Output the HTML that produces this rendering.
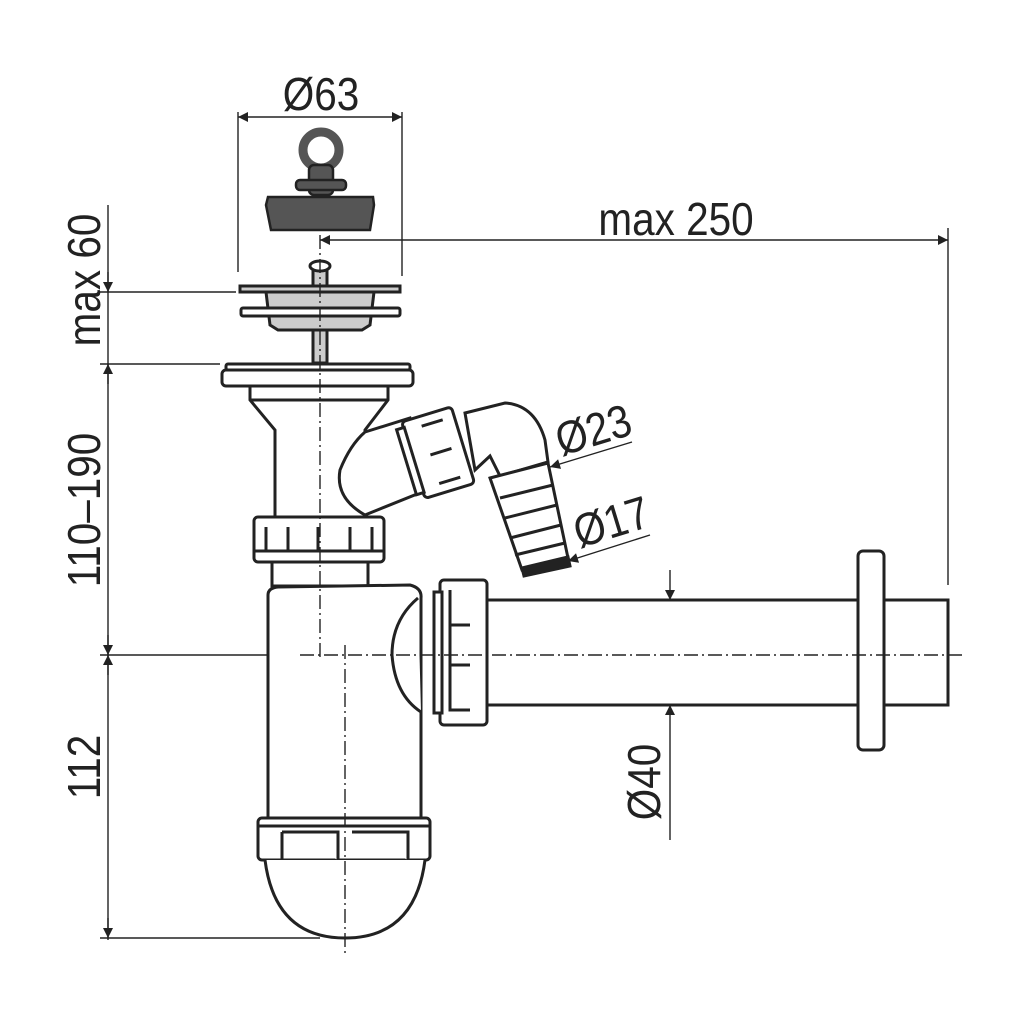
<!DOCTYPE html>
<html><head><meta charset="utf-8"><style>
html,body{margin:0;padding:0;background:#fff}
svg{display:block}
text{font-family:"Liberation Sans Narrow","Liberation Sans",sans-serif;fill:#222}
</style></head><body>
<svg width="1024" height="1024" viewBox="0 0 1024 1024" xmlns="http://www.w3.org/2000/svg">
<defs>
<marker id="a" viewBox="0 0 10 10" refX="10" refY="5" markerWidth="16" markerHeight="10" markerUnits="userSpaceOnUse" orient="auto-start-reverse"><path d="M0,0 L10,5 L0,10 z" fill="#222"/></marker>
</defs>
<g stroke="#222" fill="none" stroke-width="1.4">
<line x1="238" y1="112" x2="238" y2="272"/>
<line x1="402" y1="112" x2="402" y2="276"/>
<line x1="238" y1="117" x2="402" y2="117" marker-start="url(#a)" marker-end="url(#a)"/>
<line x1="320" y1="240" x2="948" y2="240" marker-start="url(#a)" marker-end="url(#a)"/>
<line x1="948" y1="228" x2="948" y2="585"/>
<line x1="108" y1="205" x2="108" y2="940"/>
<line x1="100" y1="292" x2="236" y2="292"/>
<line x1="100" y1="364" x2="220" y2="364"/>
<line x1="100" y1="655" x2="300" y2="655"/>
<line x1="100" y1="938" x2="320" y2="938"/>
<line x1="108" y1="272" x2="108" y2="292" marker-end="url(#a)"/>
<line x1="108" y1="384" x2="108" y2="364" marker-end="url(#a)"/>
<line x1="108" y1="635" x2="108" y2="655" marker-end="url(#a)"/>
<line x1="108" y1="675" x2="108" y2="655" marker-end="url(#a)"/>
<line x1="108" y1="918" x2="108" y2="938" marker-end="url(#a)"/>
<line x1="670" y1="570" x2="670" y2="600" marker-end="url(#a)"/>
<line x1="670" y1="840" x2="670" y2="705" marker-end="url(#a)"/>
<line x1="632" y1="442" x2="550" y2="467" marker-end="url(#a)"/>
<line x1="650" y1="535" x2="568" y2="561" marker-end="url(#a)"/>
</g>
<!-- stopper -->
<g stroke="#222" stroke-width="2.5">
<circle cx="321" cy="150" r="18" fill="none" stroke="#555" stroke-width="9"/>
<rect x="309" y="165" width="24" height="30" rx="5" fill="#555"/>
<rect x="296" y="180" width="50" height="10" rx="4" fill="#555"/>
<path d="M268,197 L373,197 L374,205 L370,230 L271,230 L266,205 Z" fill="#555"/>
</g>
<g stroke="#222" stroke-width="3" fill="#fff">
<rect x="313" y="268" width="14" height="95" fill="#ccc"/>
<ellipse cx="320" cy="266" rx="10" ry="5"/>
<path d="M266,292 L374,292 L370,325 L362,330 L278,330 L270,325 Z" fill="#ccc"/>
<path d="M240,286 L400,286 L400,292 L240,292 Z" fill="#ccc"/>
<rect x="241" y="308" width="159" height="8" rx="2"/>
<rect x="226" y="364" width="184" height="6" rx="2"/>
<rect x="222" y="370" width="191" height="16" rx="4"/>
<path d="M250,386 L388,386 L388,400 L365,430 L365,517 L275,517 L275,430 L250,400 Z"/>
<line x1="250" y1="400" x2="388" y2="400"/>
<path d="M365,432 L410,418 L432,488 L365,515 Q335,498 340,470 Q350,445 365,432 Z"/>
<g transform="rotate(-17 440 452)">
<rect x="412" y="412" width="52" height="80" rx="4"/>
<rect x="405" y="418" width="8" height="68"/>
<path d="M430,422 h22 M430,452 h22 M430,482 h22"/>
</g>
<path d="M465,413 L505,403 Q535,405 545,440 L548,462 L500,476 L490,456 L475,470 Z"/>
<path d="M490,478 L548,463 L568,558 L522,570 Z"/>
<path d="M500,498 L553,485 M505,518 L557,505 M510,538 L561,525 M515,555 L565,543"/>
<path d="M522,568 L568,557 L570,566 L524,576 Z" fill="#222"/>
<rect x="254" y="517" width="130" height="45" rx="4"/>
<path d="M266,550 V527 M288,550 V527 M318,550 V527 M350,550 V527 M372,550 V527"/>
<line x1="254" y1="551" x2="384" y2="551"/>
<rect x="272" y="562" width="96" height="24"/>
<path d="M268,595 Q268,588 278,587 L410,585 Q422,588 421,598 L421,818 L268,818 Z"/>
<path d="M418,598 Q392,620 392,655 Q395,695 421,712"/>
<rect x="258" y="818" width="172" height="42" rx="4"/>
<line x1="258" y1="826" x2="430" y2="826"/>
<path d="M282,832 h56 v28 M352,832 h56 v28 M282,832 v28 M408,832 v28"/>
<path d="M265,860 Q275,938 345,938 Q415,938 425,860"/>
<rect x="487" y="600" width="372" height="105"/>
<rect x="884" y="600" width="64" height="105"/>
<rect x="858" y="551" width="26" height="199" rx="5"/>
<rect x="440" y="580" width="47" height="145" rx="4"/>
<rect x="434" y="592" width="8" height="121"/>
<path d="M450,590 v35 h20 M450,625 v40 h20 M450,665 v45 h20"/>
</g>
<!-- axes on top -->
<g stroke="#222" fill="none" stroke-dasharray="14,4,2,4" stroke-width="1.4">
<line x1="320" y1="235" x2="320" y2="660"/>
<line x1="345" y1="645" x2="345" y2="955"/>
<line x1="300" y1="655" x2="962" y2="655"/>
</g>
<g font-size="46">
<text transform="translate(321,110) scale(0.88,1)" text-anchor="middle">Ø63</text>
<text transform="translate(676,235) scale(0.88,1)" text-anchor="middle">max 250</text>
<text transform="translate(100,280) rotate(-90) scale(0.88,1)" text-anchor="middle">max 60</text>
<text transform="translate(100,510) rotate(-90) scale(0.88,1)" text-anchor="middle">110–190</text>
<text transform="translate(100,767) rotate(-90) scale(0.88,1)" text-anchor="middle">112</text>
<text transform="translate(660,782) rotate(-90) scale(0.88,1)" text-anchor="middle">Ø40</text>
<text transform="translate(598,445) rotate(-17) scale(0.88,1)" text-anchor="middle">Ø23</text>
<text transform="translate(616,537) rotate(-17) scale(0.88,1)" text-anchor="middle">Ø17</text>
</g>
</svg>
</body></html>
